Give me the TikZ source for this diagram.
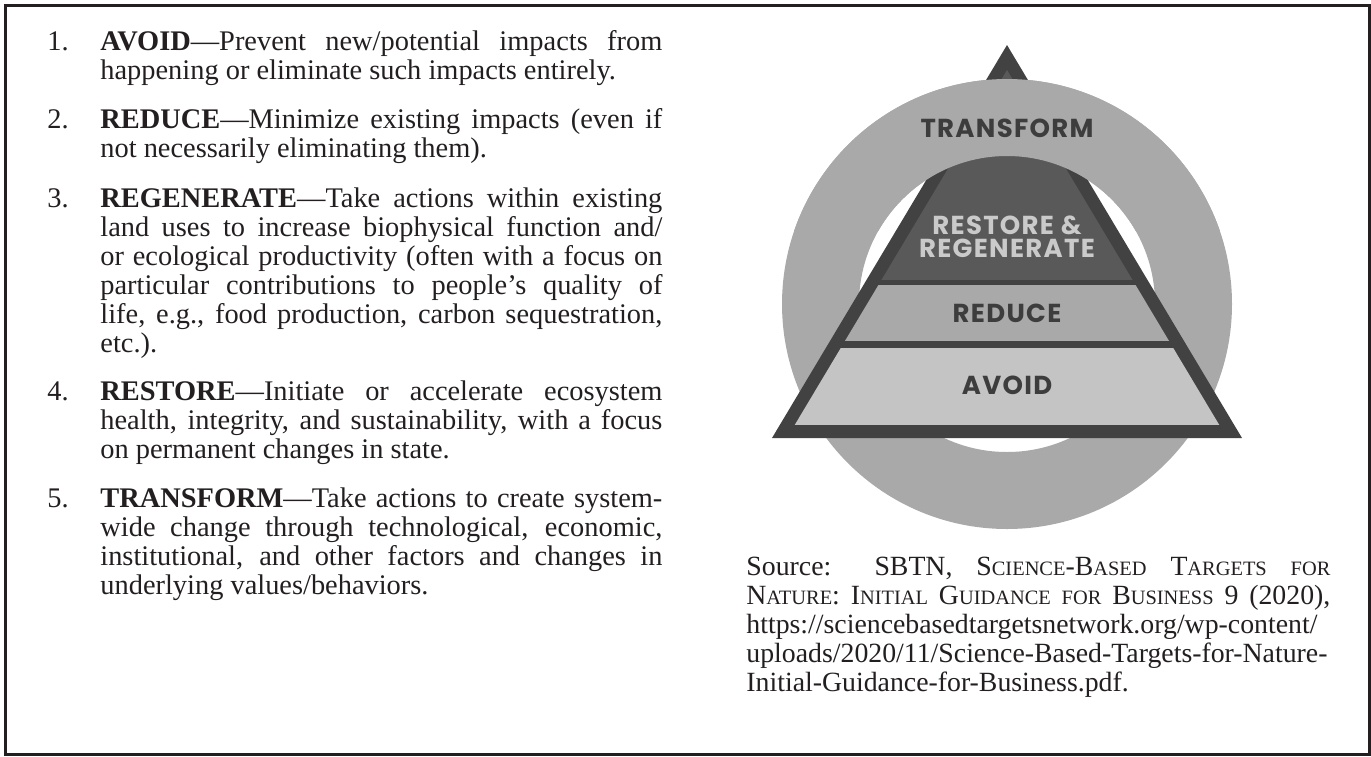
\documentclass[tikz,border=0pt]{standalone}
\usepackage{fontspec}
\setmainfont{Liberation Serif}
\newfontfamily\pyrfont{Poppins}[LetterSpace=5]
\definecolor{inkcol}{HTML}{231F20}
\definecolor{ringgray}{HTML}{A9A9A9}
\definecolor{edgegray}{HTML}{424242}
\definecolor{restoregray}{HTML}{595959}
\definecolor{avoidgray}{HTML}{C4C4C4}
\definecolor{labelgray}{HTML}{3D3D3D}
\definecolor{lightlabel}{HTML}{CACACA}
\newcommand{\itemno}[1]{\llap{\makebox[26.5pt][l]{#1}}}
\newcommand{\fsc}[1]{{\fontsize{10.2}{14.5}\selectfont #1}}
\tikzset{
  itembox/.style={anchor=base west, text width=281pt, align=justify, inner sep=0pt, text=inkcol,
    font=\fontsize{14.2}{14.5}\selectfont},
  pyrlabel/.style={inner sep=0pt, align=center, text=labelgray,
    font=\pyrfont\bfseries\fontsize{13}{11.5}\selectfont}
}
\begin{document}
\begin{tikzpicture}[x=0.5pt,y=-0.5pt]
\useasboundingbox (0,0) rectangle (1371,756);
\draw[inkcol, line width=1.5pt] (5,5) rectangle (1369,754);

	\fill[ringgray, even odd rule] (1007,304) circle (112.5pt) (1007,304) circle (74pt);
	\fill[edgegray] (1007,45) -- (772,438) -- (1242,438) -- cycle;
	\begin{scope}
		\clip (1007,70) -- (794.7,425) -- (1219.3,425) -- cycle;
		\fill[restoregray] (760,40) rectangle (1250,280);
		\fill[ringgray] (760,285) rectangle (1250,341);
		\fill[avoidgray] (760,348) rectangle (1250,425);
	\end{scope}
	\begin{scope}
		\clip (700,0) rectangle (1300,230);
		\fill[ringgray, even odd rule] (1007,304) circle (112.5pt) (1007,304) circle (74pt);
	\end{scope}
	\node[pyrlabel] (transform) at (1007,128) {TRANSFORM};
	\node[pyrlabel, text=lightlabel] (restore) at (1007,237) {RESTORE \&\\REGENERATE};
	\node[pyrlabel] (reduce) at (1007,313) {REDUCE};
	\node[pyrlabel] (avoid) at (1007,385) {AVOID};

\node[itembox] (item1) at (100,50) {\itemno{1.}\textbf{AVOID}—Prevent new/potential impacts from\linebreak
  happening or eliminate such impacts entirely.};
\node[itembox] (item2) at (100,128) {\itemno{2.}\textbf{REDUCE}—Minimize existing impacts (even if\linebreak
  not necessarily eliminating them).};
\node[itembox] (item3) at (100,207) {\itemno{3.}\textbf{REGENERATE}—Take actions within existing\linebreak
  land uses to increase biophysical function and/\linebreak
  or ecological productivity (often with a focus on\linebreak
  particular contributions to people’s quality of\linebreak
  life, e.g., food production, carbon sequestration,\linebreak
  etc.).};
\node[itembox] (item4) at (100,400) {\itemno{4.}\textbf{RESTORE}—Initiate or accelerate ecosystem\linebreak
  health, integrity, and sustainability, with a focus\linebreak
  on permanent changes in state.};
\node[itembox] (item5) at (100,507) {\itemno{5.}\textbf{TRANSFORM}—Take actions to create system-\linebreak
  wide change through technological, economic,\linebreak
  institutional, and other factors and changes in\linebreak
  underlying values/behaviors.};

\node[itembox, text width=292pt, font=\fontsize{13.9}{14.5}\selectfont] (source) at (746,575) {Source: SBTN, S\fsc{CIENCE}-B\fsc{ASED} T\fsc{ARGETS} \fsc{FOR}\linebreak
  N\fsc{ATURE}: I\fsc{NITIAL} G\fsc{UIDANCE} \fsc{FOR} B\fsc{USINESS} 9 (2020),\linebreak
  https://sciencebasedtargetsnetwork.org/wp-content/\linebreak
  uploads/2020/11/Science-Based-Targets-for-Nature-\linebreak
  Initial-Guidance-for-Business.pdf.};
\end{tikzpicture}
\end{document}
